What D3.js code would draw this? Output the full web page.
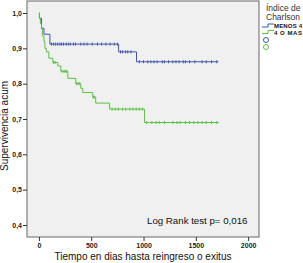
<!DOCTYPE html>
<html>
<head>
<meta charset="utf-8">
<script src="https://cdn.jsdelivr.net/npm/d3@7"></script>
<style>
  body { margin: 0; background: #fff; }
  text { font-family: "Liberation Sans", Arial, sans-serif; }
</style>
</head>
<body>
<div id="chart"></div>
<script>
/* data */
var groups = ["MENOS 4", "4 O MAS"];
var colors = ["#3f56a8", "#5cbf48"];

// event times (days) and survival after each event
var blueTimes = [0, 5, 25, 48, 105, 762, 933];
var blueSurv  = [1, 0.985, 0.957, 0.94, 0.912, 0.89, 0.862];
var blueEnd = 1715;
var blueCens = [120, 140, 160, 180, 200, 215, 235, 260, 280, 300, 330, 350, 400, 430, 460, 510, 560, 600, 640, 680, 720, 750,
                780, 800, 830, 850, 880,
                960, 1000, 1040, 1070, 1100, 1130, 1180, 1200, 1240, 1280, 1310, 1340, 1380, 1400, 1440, 1490, 1560, 1600, 1650, 1700];

var greenTimes = [0, 5, 14, 24, 33, 48, 57, 71, 95, 133, 181, 210, 276, 352, 400, 419, 514, 543, 676, 1010];
var greenSurv  = [1, 0.985, 0.97, 0.955, 0.935, 0.92, 0.90, 0.89, 0.872, 0.86, 0.85, 0.835, 0.815, 0.80, 0.787, 0.775, 0.762, 0.745, 0.728, 0.69];
var greenEnd = 1720;
var greenCens = [140, 155, 220, 240, 250, 265, 360, 375, 390, 520, 530,
                 700, 730, 760, 800, 830, 870, 900, 930, 960, 990,
                 1030, 1080, 1120, 1150, 1200, 1280, 1320, 1350, 1400, 1440, 1480, 1520, 1560, 1600, 1650, 1700];

var xTicks = [0, 500, 1000, 1500, 2000];
var yTicks = [0.4, 0.5, 0.6, 0.7, 0.8, 0.9, 1.0];

/* Set the dimensions of the diagram */
var width = 303, height = 263;
var plot = {left: 27, right: 259, top: 1, bottom: 237};

var svg = d3.select("#chart").append("svg").attr("width", width).attr("height", height);

var x = d3.scaleLinear().domain([-114, 2104]).range([plot.left, plot.right]);
var y = d3.scaleLinear().domain([0.366, 1.034]).range([plot.bottom, plot.top]);

/* plot background */
svg.append("rect")
    .attr("x", plot.left).attr("y", plot.top)
    .attr("width", plot.right - plot.left).attr("height", plot.bottom - plot.top)
    .attr("fill", "#f0f0f0")
    .attr("stroke", "#666")
    .attr("stroke-width", 1);

/* axes */
var fmt = function(d) { return d3.format(".1f")(d).replace(".", ","); };

svg.append("g")
    .attr("transform", "translate(" + plot.left + ",0)")
    .call(d3.axisLeft(y).tickValues(yTicks).tickSize(4).tickFormat(fmt))
  .call(function(g) {
    g.select(".domain").remove();
    g.selectAll("line").attr("stroke", "#333");
    g.selectAll("text").attr("font-size", 7).attr("font-weight", "bold").attr("fill", "#222").attr("x", -5);
  });

svg.append("g")
    .attr("transform", "translate(0," + plot.bottom + ")")
    .call(d3.axisBottom(x).tickValues(xTicks).tickSize(4).tickFormat(d3.format("d")))
  .call(function(g) {
    g.select(".domain").remove();
    g.selectAll("line").attr("stroke", "#333");
    g.selectAll("text").attr("font-size", 7).attr("font-weight", "bold").attr("fill", "#222").attr("y", 6);
  });

svg.append("text")
    .attr("x", 143).attr("y", 260)
    .attr("text-anchor", "middle")
    .attr("font-size", 10)
    .attr("fill", "#111")
    .text("Tiempo en dias hasta reingreso o exitus");

svg.append("text")
    .attr("transform", "translate(8,126) rotate(-90)")
    .attr("text-anchor", "middle")
    .attr("font-size", 10)
    .attr("fill", "#111")
    .text("Supervivencia acum");

/* survival curves */
var series = [
  {times: blueTimes, surv: blueSurv, end: blueEnd, cens: blueCens},
  {times: greenTimes, surv: greenSurv, end: greenEnd, cens: greenCens}
];

var line = d3.line()
    .x(function(d) { return x(d[0]); })
    .y(function(d) { return y(d[1]); })
    .curve(d3.curveStepAfter);

function survAt(s, t) {
  var i = d3.bisectRight(s.times, t) - 1;
  return s.surv[Math.max(0, i)];
}

series.forEach(function(s, i) {
  var pts = s.times.map(function(t, j) { return [t, s.surv[j]]; });
  pts.push([s.end, s.surv[s.surv.length - 1]]);

  svg.append("path")
      .datum(pts)
      .attr("fill", "none")
      .attr("stroke", colors[i])
      .attr("stroke-width", 1)
      .attr("d", line);

  svg.append("g")
    .selectAll("line")
    .data(s.cens)
    .enter().append("line")
      .attr("x1", function(d) { return x(d); })
      .attr("x2", function(d) { return x(d); })
      .attr("y1", function(d) { return y(survAt(s, d)) - 1.5; })
      .attr("y2", function(d) { return y(survAt(s, d)) + 1.5; })
      .attr("stroke", colors[i])
      .attr("stroke-width", 1);
});

/* Log rank text */
svg.append("text")
    .attr("x", 147).attr("y", 224)
    .attr("font-size", 9.7)
    .attr("fill", "#111")
    .text("Log Rank test p= 0,016");

/* Legend */
var lg = svg.append("g");

lg.append("text").attr("x", 266).attr("y", 11).attr("font-size", 8.5).attr("fill", "#333").text("Índice de");
lg.append("text").attr("x", 266).attr("y", 20).attr("font-size", 8.5).attr("fill", "#333").text("Charlson");

groups.forEach(function(name, i) {
  var yy = 27 + i * 6.5;
  lg.append("path")
      .attr("d", "M262," + yy + "H268V" + (yy - 3) + "H274")
      .attr("fill", "none")
      .attr("stroke", colors[i])
      .attr("stroke-width", 1);
  lg.append("text")
      .attr("x", 274).attr("y", yy + 1)
      .attr("font-size", 6)
      .attr("font-weight", "bold")
      .attr("textLength", name.length > 6 ? 28 : 24)
      .attr("fill", "#111")
      .text(name);
  lg.append("circle")
      .attr("cx", 266).attr("cy", 40 + i * 7)
      .attr("r", 2.5)
      .attr("fill", "none")
      .attr("stroke", colors[i])
      .attr("stroke-width", 1);
});
</script>
</body>
</html>
